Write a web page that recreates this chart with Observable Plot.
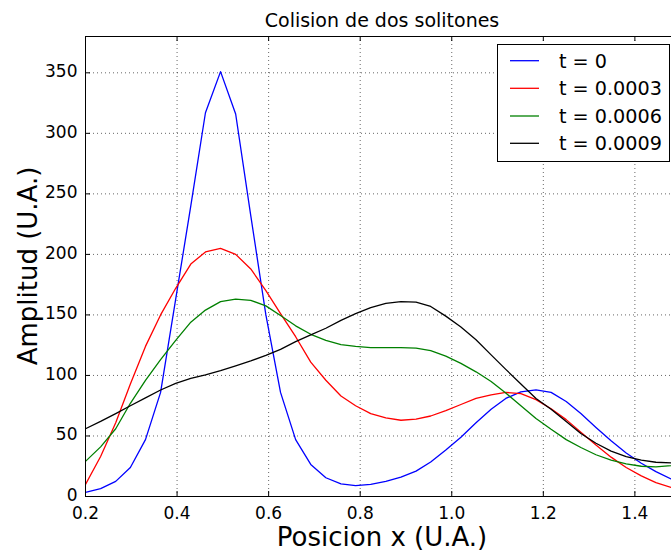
<!DOCTYPE html>
<html>
<head>
<meta charset="utf-8">
<script src="https://cdn.jsdelivr.net/npm/d3@7"></script>
<script src="https://cdn.jsdelivr.net/npm/@observablehq/plot@0.6"></script>
<style>
  html, body { margin: 0; padding: 0; background: #fff; }
  svg { display: block; }
</style>
</head>
<body>
<div id="chart"></div>
<script>
const title = "Colision de dos solitones";
const xLabel = "Posicion x (U.A.)";
const yLabel = "Amplitud (U.A.)";
const seriesNames = ["t = 0", "t = 0.0003", "t = 0.0006", "t = 0.0009"];
const seriesColors = ["#0000ff", "#ff0000", "#008000", "#000000"];
const xTicks = [0.2, 0.4, 0.6, 0.8, 1.0, 1.2, 1.4];
const yTicks = [0, 50, 100, 150, 200, 250, 300, 350];

const xs = [0.200,0.233,0.266,0.298,0.331,0.364,0.397,0.430,0.462,0.495,
            0.528,0.561,0.594,0.626,0.659,0.692,0.725,0.758,0.790,0.823,
            0.856,0.889,0.922,0.954,0.987,1.020,1.053,1.086,1.118,1.151,
            1.184,1.217,1.250,1.282,1.315,1.348,1.381,1.414,1.446,1.479,1.512];

const t0 = [3.5,6.5,12.5,24,47,86,163,240,317,351,
            316,232,150,86,47,26.5,15.5,10.5,9,10,
            12.5,16,21,28.5,38.5,49,61,72,81,86.5,
            88,86,78.5,68.5,57,46,36,27.5,20.5,14.5,10];
const t3 = [10,33,61,93,124,150,172,192,202,205,
            200,188,170,151,132,111,96,83,75,68.5,
            65,63,64,66.5,71,76,81,84,86,85,
            80,72.5,63.5,53,42.5,32.5,24,17,11.5,7.5,5];
const t6 = [29,41,56,77,96,113,129,144,154,161,
            163,162,157.5,149.5,141,134,129,125.5,124,123,
            123,123,122.5,120.5,116,110,103,95,85.5,75,
            64.5,55.5,47,40.5,34.5,30,27,25,24.5,25.5,27];
const t9 = [56,62,68.5,75,81.5,88,93.5,97.5,100.5,104,
            108,112,116.5,121.5,128,133.5,139,145.5,151,156,
            159.5,161,160.5,157,149,140,129.5,117,105,93,
            81,72,62,52,44,37.5,33,30,28.3,27.8,27.5];

const allSeries = [t0, t3, t6, t9];
const data = [];
allSeries.forEach((vals, s) => {
  vals.forEach((v, i) => data.push({x: xs[i], y: v, series: seriesNames[s]}));
});

const W = 671, H = 552;
const mL = 85, mR = 0, mT = 36, mB = 56;
const innerH = H - mT - mB;
const innerW = W - mL - mR;
const tickLen = 5;

const plot = Plot.plot({
  width: W,
  height: H,
  marginLeft: mL,
  marginRight: mR,
  marginTop: mT,
  marginBottom: mB,
  style: {fontFamily: "DejaVu Sans, sans-serif", background: "#fff", color: "#000"},
  x: {type: "linear", domain: [0.2, 1.48]},
  y: {type: "linear", domain: [0, 380]},
  color: {domain: seriesNames, range: seriesColors},
  marks: [
    Plot.gridX(xTicks, {stroke: "#000", strokeOpacity: 0.75, strokeWidth: 0.8, strokeDasharray: "1,3"}),
    Plot.gridY(yTicks, {stroke: "#000", strokeOpacity: 0.75, strokeWidth: 0.8, strokeDasharray: "1,3"}),
    Plot.line(data, {x: "x", y: "y", z: "series", stroke: "series", strokeWidth: 1.3, clip: true}),
    Plot.ruleX(xTicks, {stroke: "#000", strokeWidth: 1, insetTop: innerH - tickLen}),
    Plot.ruleX(xTicks, {stroke: "#000", strokeWidth: 1, insetBottom: innerH - tickLen}),
    Plot.ruleY(yTicks, {stroke: "#000", strokeWidth: 1, insetRight: innerW - tickLen}),
    Plot.axisX(xTicks, {tickSize: 0, tickPadding: 10, fontSize: 17, tickFormat: d3.format(".1f"), label: null}),
    Plot.axisY(yTicks, {tickSize: 0, tickPadding: 8, fontSize: 17, dy: -1, label: null}),
    Plot.frame({stroke: "#000", strokeWidth: 1})
  ]
});

const svg = d3.select(plot);

// Title and axis labels
svg.append("text")
  .attr("x", 382).attr("y", 27)
  .attr("text-anchor", "middle")
  .attr("font-size", 19)
  .attr("fill", "#000")
  .text(title);

svg.append("text")
  .attr("x", 382).attr("y", 546)
  .attr("text-anchor", "middle")
  .attr("font-size", 26)
  .attr("fill", "#000")
  .text(xLabel);

svg.append("text")
  .attr("transform", `translate(37,${mT + innerH / 2}) rotate(-90)`)
  .attr("text-anchor", "middle")
  .attr("font-size", 26)
  .attr("fill", "#000")
  .text(yLabel);

// Legend
const lg = svg.append("g").attr("text-anchor", "start");
lg.append("rect")
  .attr("x", 497.5).attr("y", 44.5)
  .attr("width", 172).attr("height", 117)
  .attr("fill", "#fff").attr("stroke", "#000").attr("stroke-width", 1);
const rowY = [60.7, 88.3, 116, 143.3];
seriesNames.forEach((name, i) => {
  lg.append("line")
    .attr("x1", 510).attr("x2", 539)
    .attr("y1", rowY[i]).attr("y2", rowY[i])
    .attr("stroke", seriesColors[i]).attr("stroke-width", 1.3);
  lg.append("text")
    .attr("x", 559).attr("y", rowY[i])
    .attr("dy", "0.36em")
    .attr("text-anchor", "start")
    .attr("font-size", 19.2)
    .attr("fill", "#000")
    .text(name);
});

document.getElementById("chart").appendChild(plot);
</script>
</body>
</html>
